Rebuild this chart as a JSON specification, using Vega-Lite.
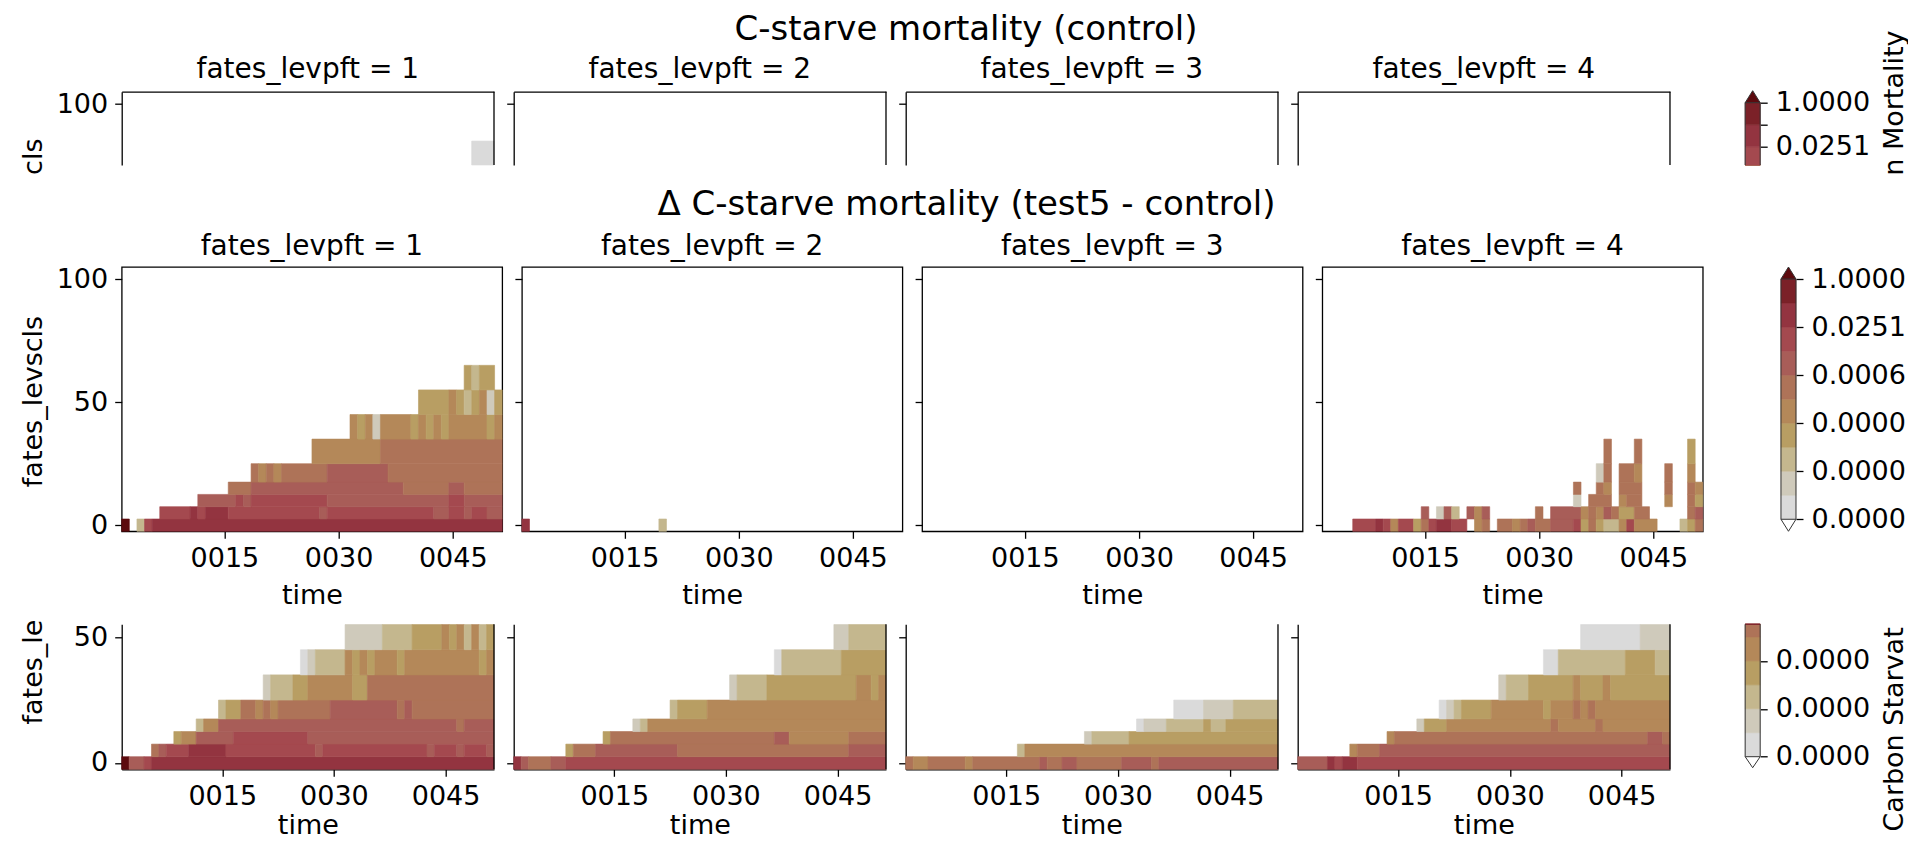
{
"$schema": "https://vega.github.io/schema/vega-lite/v6.json",
"padding": {"left": 17.7, "top": 12.7, "right": 0, "bottom": 0},
"background": "white",
"columns": 5,
"bounds": "flush",
"spacing": {"row": 92.3, "column": 19.2},
"datasets": {
"cls": [{"c":0,"lo":-2.5,"hi":2.5},{"c":5,"lo":2.5,"hi":7.5},{"c":10,"lo":7.5,"hi":12.5},{"c":15,"lo":12.5,"hi":17.5},{"c":20,"lo":17.5,"hi":25},{"c":30,"lo":25,"hi":35},{"c":40,"lo":35,"hi":45},{"c":50,"lo":45,"hi":55},{"c":60,"lo":55,"hi":65},{"c":70,"lo":65,"hi":75},{"c":80,"lo":75,"hi":85},{"c":90,"lo":85,"hi":95},{"c":100,"lo":95,"hi":105}],
"cb": [{"k0":0,"k1":1,"v":3e-8},{"k0":1,"k1":2,"v":2e-7},{"k0":2,"k1":3,"v":1e-6},{"k0":3,"k1":4,"v":6e-6},{"k0":4,"k1":5,"v":4e-5},{"k0":5,"k1":6,"v":3e-4},{"k0":6,"k1":7,"v":0.002},{"k0":7,"k1":8,"v":0.01},{"k0":8,"k1":9,"v":0.06},{"k0":9,"k1":10,"v":0.4}],
"ctl": [{"f":1,"c":80,"t0":48.5,"t1":51.5,"v":3e-8}],
"mid": [
{"f":1,"c":0,"t0":1.5,"t1":2.5,"v":1.5},{"f":1,"c":0,"t0":3.5,"t1":4.5,"v":1e-6},{"f":1,"c":0,"t0":4.5,"t1":5.5,"v":0.01},{"f":1,"c":0,"t0":5.5,"t1":51.5,"v":0.06},
{"f":1,"c":5,"t0":6.5,"t1":10.5,"v":0.01},{"f":1,"c":5,"t0":10.5,"t1":11.5,"v":0.06},{"f":1,"c":5,"t0":11.5,"t1":12.5,"v":0.01},{"f":1,"c":5,"t0":12.5,"t1":15.5,"v":0.06},{"f":1,"c":5,"t0":15.5,"t1":27.5,"v":0.01},{"f":1,"c":5,"t0":27.5,"t1":28.5,"v":0.002},{"f":1,"c":5,"t0":28.5,"t1":42.5,"v":0.01},{"f":1,"c":5,"t0":42.5,"t1":44.5,"v":0.002},{"f":1,"c":5,"t0":44.5,"t1":46.5,"v":0.01},{"f":1,"c":5,"t0":46.5,"t1":47.5,"v":0.002},{"f":1,"c":5,"t0":47.5,"t1":49.5,"v":0.01},{"f":1,"c":5,"t0":49.5,"t1":51.5,"v":0.002},
{"f":1,"c":10,"t0":11.5,"t1":16.5,"v":0.002},{"f":1,"c":10,"t0":16.5,"t1":17.5,"v":0.01},{"f":1,"c":10,"t0":17.5,"t1":18.5,"v":0.002},{"f":1,"c":10,"t0":18.5,"t1":28.5,"v":0.01},{"f":1,"c":10,"t0":28.5,"t1":44.5,"v":0.002},{"f":1,"c":10,"t0":44.5,"t1":46.5,"v":0.01},{"f":1,"c":10,"t0":46.5,"t1":51.5,"v":0.002},
{"f":1,"c":15,"t0":15.5,"t1":18.5,"v":3e-4},{"f":1,"c":15,"t0":18.5,"t1":38.5,"v":0.002},{"f":1,"c":15,"t0":38.5,"t1":44.5,"v":3e-4},{"f":1,"c":15,"t0":44.5,"t1":46.5,"v":0.002},{"f":1,"c":15,"t0":46.5,"t1":51.5,"v":3e-4},
{"f":1,"c":20,"t0":18.5,"t1":19.5,"v":3e-4},{"f":1,"c":20,"t0":19.5,"t1":20.5,"v":4e-5},{"f":1,"c":20,"t0":20.5,"t1":21.5,"v":3e-4},{"f":1,"c":20,"t0":21.5,"t1":22.5,"v":4e-5},{"f":1,"c":20,"t0":22.5,"t1":28.5,"v":3e-4},{"f":1,"c":20,"t0":28.5,"t1":36.5,"v":0.002},{"f":1,"c":20,"t0":36.5,"t1":51.5,"v":3e-4},
{"f":1,"c":30,"t0":26.5,"t1":35.5,"v":4e-5},{"f":1,"c":30,"t0":35.5,"t1":51.5,"v":3e-4},
{"f":1,"c":40,"t0":31.5,"t1":32.5,"v":4e-5},{"f":1,"c":40,"t0":32.5,"t1":33.5,"v":6e-6},{"f":1,"c":40,"t0":33.5,"t1":34.5,"v":4e-5},{"f":1,"c":40,"t0":34.5,"t1":35.5,"v":2e-7},{"f":1,"c":40,"t0":35.5,"t1":39.5,"v":4e-5},{"f":1,"c":40,"t0":39.5,"t1":40.5,"v":6e-6},{"f":1,"c":40,"t0":40.5,"t1":41.5,"v":4e-5},{"f":1,"c":40,"t0":41.5,"t1":42.5,"v":6e-6},{"f":1,"c":40,"t0":42.5,"t1":43.5,"v":4e-5},{"f":1,"c":40,"t0":43.5,"t1":44.5,"v":6e-6},{"f":1,"c":40,"t0":44.5,"t1":49.5,"v":4e-5},{"f":1,"c":40,"t0":49.5,"t1":50.5,"v":6e-6},{"f":1,"c":40,"t0":50.5,"t1":51.5,"v":4e-5},
{"f":1,"c":50,"t0":40.5,"t1":44.5,"v":6e-6},{"f":1,"c":50,"t0":44.5,"t1":45.5,"v":4e-5},{"f":1,"c":50,"t0":45.5,"t1":46.5,"v":6e-6},{"f":1,"c":50,"t0":46.5,"t1":47.5,"v":1e-6},{"f":1,"c":50,"t0":47.5,"t1":48.5,"v":6e-6},{"f":1,"c":50,"t0":48.5,"t1":49.5,"v":4e-5},{"f":1,"c":50,"t0":49.5,"t1":50.5,"v":2e-7},{"f":1,"c":50,"t0":50.5,"t1":51.5,"v":6e-6},
{"f":1,"c":60,"t0":46.5,"t1":47.5,"v":6e-6},{"f":1,"c":60,"t0":47.5,"t1":48.5,"v":1e-6},{"f":1,"c":60,"t0":48.5,"t1":50.5,"v":6e-6},
{"f":2,"c":0,"t0":1.5,"t1":2.5,"v":0.06},{"f":2,"c":0,"t0":19.5,"t1":20.5,"v":1e-6},
{"f":4,"c":0,"t0":5.5,"t1":8.5,"v":0.01},{"f":4,"c":0,"t0":8.5,"t1":9.5,"v":0.06},{"f":4,"c":0,"t0":9.5,"t1":10.5,"v":0.01},{"f":4,"c":0,"t0":10.5,"t1":11.5,"v":4e-5},{"f":4,"c":0,"t0":11.5,"t1":13.5,"v":0.01},{"f":4,"c":0,"t0":13.5,"t1":14.5,"v":6e-6},{"f":4,"c":0,"t0":14.5,"t1":15.5,"v":3e-4},{"f":4,"c":0,"t0":15.5,"t1":16.5,"v":0.01},{"f":4,"c":0,"t0":16.5,"t1":18.5,"v":0.06},{"f":4,"c":0,"t0":18.5,"t1":20.5,"v":0.01},{"f":4,"c":0,"t0":21.5,"t1":22.5,"v":4e-5},{"f":4,"c":0,"t0":22.5,"t1":23.5,"v":3e-4},{"f":4,"c":0,"t0":24.5,"t1":26.5,"v":3e-4},{"f":4,"c":0,"t0":26.5,"t1":27.5,"v":4e-5},{"f":4,"c":0,"t0":27.5,"t1":28.5,"v":3e-4},{"f":4,"c":0,"t0":28.5,"t1":29.5,"v":0.002},{"f":4,"c":0,"t0":29.5,"t1":31.5,"v":3e-4},{"f":4,"c":0,"t0":31.5,"t1":34.5,"v":0.002},{"f":4,"c":0,"t0":34.5,"t1":35.5,"v":0.01},{"f":4,"c":0,"t0":35.5,"t1":36.5,"v":6e-6},{"f":4,"c":0,"t0":36.5,"t1":37.5,"v":3e-4},{"f":4,"c":0,"t0":37.5,"t1":38.5,"v":6e-6},{"f":4,"c":0,"t0":38.5,"t1":40.5,"v":1e-6},{"f":4,"c":0,"t0":40.5,"t1":41.5,"v":4e-5},{"f":4,"c":0,"t0":41.5,"t1":42.5,"v":0.01},{"f":4,"c":0,"t0":42.5,"t1":45.5,"v":4e-5},{"f":4,"c":0,"t0":48.5,"t1":49.5,"v":1e-6},{"f":4,"c":0,"t0":49.5,"t1":50.5,"v":6e-6},{"f":4,"c":0,"t0":50.5,"t1":51.5,"v":3e-4},
{"f":4,"c":5,"t0":14.5,"t1":15.5,"v":0.002},{"f":4,"c":5,"t0":16.5,"t1":17.5,"v":2e-7},{"f":4,"c":5,"t0":17.5,"t1":18.5,"v":0.002},{"f":4,"c":5,"t0":18.5,"t1":19.5,"v":1e-6},{"f":4,"c":5,"t0":20.5,"t1":21.5,"v":0.002},{"f":4,"c":5,"t0":21.5,"t1":22.5,"v":4e-5},{"f":4,"c":5,"t0":22.5,"t1":23.5,"v":0.002},{"f":4,"c":5,"t0":29.5,"t1":30.5,"v":3e-4},{"f":4,"c":5,"t0":31.5,"t1":35.5,"v":0.002},{"f":4,"c":5,"t0":35.5,"t1":36.5,"v":4e-5},{"f":4,"c":5,"t0":36.5,"t1":37.5,"v":3e-4},{"f":4,"c":5,"t0":37.5,"t1":38.5,"v":4e-5},{"f":4,"c":5,"t0":38.5,"t1":39.5,"v":0.002},{"f":4,"c":5,"t0":39.5,"t1":40.5,"v":3e-4},{"f":4,"c":5,"t0":40.5,"t1":42.5,"v":6e-6},{"f":4,"c":5,"t0":42.5,"t1":44.5,"v":3e-4},{"f":4,"c":5,"t0":49.5,"t1":50.5,"v":3e-4},{"f":4,"c":5,"t0":50.5,"t1":51.5,"v":0.002},
{"f":4,"c":10,"t0":34.5,"t1":35.5,"v":2e-7},{"f":4,"c":10,"t0":36.5,"t1":39.5,"v":3e-4},{"f":4,"c":10,"t0":40.5,"t1":41.5,"v":4e-5},{"f":4,"c":10,"t0":41.5,"t1":43.5,"v":3e-4},{"f":4,"c":10,"t0":46.5,"t1":47.5,"v":4e-5},{"f":4,"c":10,"t0":49.5,"t1":50.5,"v":3e-4},{"f":4,"c":10,"t0":50.5,"t1":51.5,"v":6e-6},
{"f":4,"c":15,"t0":34.5,"t1":35.5,"v":3e-4},{"f":4,"c":15,"t0":37.5,"t1":38.5,"v":3e-4},{"f":4,"c":15,"t0":38.5,"t1":39.5,"v":4e-5},{"f":4,"c":15,"t0":40.5,"t1":43.5,"v":3e-4},{"f":4,"c":15,"t0":46.5,"t1":47.5,"v":3e-4},{"f":4,"c":15,"t0":49.5,"t1":50.5,"v":3e-4},{"f":4,"c":15,"t0":50.5,"t1":51.5,"v":4e-5},
{"f":4,"c":20,"t0":37.5,"t1":38.5,"v":2e-7},{"f":4,"c":20,"t0":38.5,"t1":39.5,"v":3e-4},{"f":4,"c":20,"t0":40.5,"t1":42.5,"v":3e-4},{"f":4,"c":20,"t0":42.5,"t1":43.5,"v":4e-5},{"f":4,"c":20,"t0":46.5,"t1":47.5,"v":3e-4},{"f":4,"c":20,"t0":49.5,"t1":50.5,"v":4e-5},
{"f":4,"c":30,"t0":38.5,"t1":39.5,"v":3e-4},{"f":4,"c":30,"t0":42.5,"t1":43.5,"v":3e-4},{"f":4,"c":30,"t0":49.5,"t1":50.5,"v":6e-6}
],
"bot": [
{"f":1,"c":0,"t0":1.5,"t1":2.5,"v":1.5},{"f":1,"c":0,"t0":2.5,"t1":4.5,"v":0.002},{"f":1,"c":0,"t0":4.5,"t1":5.5,"v":0.01},{"f":1,"c":0,"t0":5.5,"t1":51.5,"v":0.06},
{"f":1,"c":5,"t0":5.5,"t1":6.5,"v":3e-4},{"f":1,"c":5,"t0":6.5,"t1":7.5,"v":0.002},{"f":1,"c":5,"t0":7.5,"t1":10.5,"v":0.01},{"f":1,"c":5,"t0":10.5,"t1":15.5,"v":0.06},{"f":1,"c":5,"t0":15.5,"t1":27.5,"v":0.01},{"f":1,"c":5,"t0":27.5,"t1":28.5,"v":0.002},{"f":1,"c":5,"t0":28.5,"t1":42.5,"v":0.01},{"f":1,"c":5,"t0":42.5,"t1":43.5,"v":0.002},{"f":1,"c":5,"t0":43.5,"t1":46.5,"v":0.01},{"f":1,"c":5,"t0":46.5,"t1":47.5,"v":0.002},{"f":1,"c":5,"t0":47.5,"t1":50.5,"v":0.01},{"f":1,"c":5,"t0":50.5,"t1":51.5,"v":0.002},
{"f":1,"c":10,"t0":8.5,"t1":9.5,"v":6e-6},{"f":1,"c":10,"t0":9.5,"t1":11.5,"v":4e-5},{"f":1,"c":10,"t0":11.5,"t1":16.5,"v":0.002},{"f":1,"c":10,"t0":16.5,"t1":26.5,"v":0.01},{"f":1,"c":10,"t0":26.5,"t1":51.5,"v":0.002},
{"f":1,"c":15,"t0":11.5,"t1":12.5,"v":1e-6},{"f":1,"c":15,"t0":12.5,"t1":14.5,"v":4e-5},{"f":1,"c":15,"t0":14.5,"t1":46.5,"v":0.002},{"f":1,"c":15,"t0":46.5,"t1":47.5,"v":3e-4},{"f":1,"c":15,"t0":47.5,"t1":51.5,"v":0.002},
{"f":1,"c":20,"t0":14.5,"t1":15.5,"v":1e-6},{"f":1,"c":20,"t0":15.5,"t1":17.5,"v":6e-6},{"f":1,"c":20,"t0":17.5,"t1":19.5,"v":3e-4},{"f":1,"c":20,"t0":19.5,"t1":20.5,"v":4e-5},{"f":1,"c":20,"t0":20.5,"t1":21.5,"v":3e-4},{"f":1,"c":20,"t0":21.5,"t1":22.5,"v":4e-5},{"f":1,"c":20,"t0":22.5,"t1":29.5,"v":3e-4},{"f":1,"c":20,"t0":29.5,"t1":38.5,"v":0.002},{"f":1,"c":20,"t0":38.5,"t1":39.5,"v":3e-4},{"f":1,"c":20,"t0":39.5,"t1":40.5,"v":0.002},{"f":1,"c":20,"t0":40.5,"t1":51.5,"v":3e-4},
{"f":1,"c":30,"t0":20.5,"t1":21.5,"v":2e-7},{"f":1,"c":30,"t0":21.5,"t1":24.5,"v":1e-6},{"f":1,"c":30,"t0":24.5,"t1":26.5,"v":6e-6},{"f":1,"c":30,"t0":26.5,"t1":32.5,"v":4e-5},{"f":1,"c":30,"t0":32.5,"t1":34.5,"v":6e-6},{"f":1,"c":30,"t0":34.5,"t1":51.5,"v":3e-4},
{"f":1,"c":40,"t0":25.5,"t1":26.5,"v":3e-8},{"f":1,"c":40,"t0":26.5,"t1":27.5,"v":2e-7},{"f":1,"c":40,"t0":27.5,"t1":31.5,"v":1e-6},{"f":1,"c":40,"t0":31.5,"t1":32.5,"v":4e-5},{"f":1,"c":40,"t0":32.5,"t1":33.5,"v":6e-6},{"f":1,"c":40,"t0":33.5,"t1":34.5,"v":4e-5},{"f":1,"c":40,"t0":34.5,"t1":35.5,"v":6e-6},{"f":1,"c":40,"t0":35.5,"t1":38.5,"v":4e-5},{"f":1,"c":40,"t0":38.5,"t1":39.5,"v":6e-6},{"f":1,"c":40,"t0":39.5,"t1":49.5,"v":4e-5},{"f":1,"c":40,"t0":49.5,"t1":50.5,"v":6e-6},{"f":1,"c":40,"t0":50.5,"t1":51.5,"v":4e-5},
{"f":1,"c":50,"t0":31.5,"t1":36.5,"v":2e-7},{"f":1,"c":50,"t0":36.5,"t1":40.5,"v":1e-6},{"f":1,"c":50,"t0":40.5,"t1":44.5,"v":6e-6},{"f":1,"c":50,"t0":44.5,"t1":45.5,"v":4e-5},{"f":1,"c":50,"t0":45.5,"t1":46.5,"v":6e-6},{"f":1,"c":50,"t0":46.5,"t1":47.5,"v":4e-5},{"f":1,"c":50,"t0":47.5,"t1":48.5,"v":1e-6},{"f":1,"c":50,"t0":48.5,"t1":49.5,"v":4e-5},{"f":1,"c":50,"t0":49.5,"t1":50.5,"v":1e-6},{"f":1,"c":50,"t0":50.5,"t1":51.5,"v":6e-6},
{"f":2,"c":0,"t0":1.5,"t1":2.5,"v":0.06},{"f":2,"c":0,"t0":2.5,"t1":3.5,"v":0.002},{"f":2,"c":0,"t0":3.5,"t1":6.5,"v":3e-4},{"f":2,"c":0,"t0":6.5,"t1":8.5,"v":0.002},{"f":2,"c":0,"t0":8.5,"t1":51.5,"v":0.01},
{"f":2,"c":5,"t0":8.5,"t1":9.5,"v":6e-6},{"f":2,"c":5,"t0":9.5,"t1":12.5,"v":3e-4},{"f":2,"c":5,"t0":12.5,"t1":23.5,"v":0.002},{"f":2,"c":5,"t0":23.5,"t1":46.5,"v":3e-4},{"f":2,"c":5,"t0":46.5,"t1":51.5,"v":0.002},
{"f":2,"c":10,"t0":13.5,"t1":14.5,"v":6e-6},{"f":2,"c":10,"t0":14.5,"t1":36.5,"v":3e-4},{"f":2,"c":10,"t0":36.5,"t1":38.5,"v":0.002},{"f":2,"c":10,"t0":38.5,"t1":46.5,"v":4e-5},{"f":2,"c":10,"t0":46.5,"t1":51.5,"v":3e-4},
{"f":2,"c":15,"t0":17.5,"t1":18.5,"v":2e-7},{"f":2,"c":15,"t0":18.5,"t1":19.5,"v":1e-6},{"f":2,"c":15,"t0":19.5,"t1":51.5,"v":4e-5},
{"f":2,"c":20,"t0":22.5,"t1":23.5,"v":1e-6},{"f":2,"c":20,"t0":23.5,"t1":27.5,"v":6e-6},{"f":2,"c":20,"t0":27.5,"t1":51.5,"v":4e-5},
{"f":2,"c":30,"t0":30.5,"t1":31.5,"v":2e-7},{"f":2,"c":30,"t0":31.5,"t1":35.5,"v":1e-6},{"f":2,"c":30,"t0":35.5,"t1":47.5,"v":6e-6},{"f":2,"c":30,"t0":47.5,"t1":49.5,"v":4e-5},{"f":2,"c":30,"t0":49.5,"t1":50.5,"v":6e-6},{"f":2,"c":30,"t0":50.5,"t1":51.5,"v":4e-5},
{"f":2,"c":40,"t0":36.5,"t1":37.5,"v":3e-8},{"f":2,"c":40,"t0":37.5,"t1":45.5,"v":1e-6},{"f":2,"c":40,"t0":45.5,"t1":51.5,"v":6e-6},
{"f":2,"c":50,"t0":44.5,"t1":46.5,"v":2e-7},{"f":2,"c":50,"t0":46.5,"t1":51.5,"v":1e-6},
{"f":3,"c":0,"t0":1.5,"t1":2.5,"v":3e-4},{"f":3,"c":0,"t0":2.5,"t1":4.5,"v":4e-5},{"f":3,"c":0,"t0":4.5,"t1":9.5,"v":3e-4},{"f":3,"c":0,"t0":9.5,"t1":10.5,"v":4e-5},{"f":3,"c":0,"t0":10.5,"t1":19.5,"v":3e-4},{"f":3,"c":0,"t0":19.5,"t1":20.5,"v":0.002},{"f":3,"c":0,"t0":20.5,"t1":22.5,"v":3e-4},{"f":3,"c":0,"t0":22.5,"t1":24.5,"v":0.002},{"f":3,"c":0,"t0":24.5,"t1":30.5,"v":3e-4},{"f":3,"c":0,"t0":30.5,"t1":34.5,"v":0.002},{"f":3,"c":0,"t0":34.5,"t1":35.5,"v":3e-4},{"f":3,"c":0,"t0":35.5,"t1":51.5,"v":0.002},
{"f":3,"c":5,"t0":16.5,"t1":17.5,"v":1e-6},{"f":3,"c":5,"t0":17.5,"t1":51.5,"v":4e-5},
{"f":3,"c":10,"t0":25.5,"t1":26.5,"v":2e-7},{"f":3,"c":10,"t0":26.5,"t1":31.5,"v":1e-6},{"f":3,"c":10,"t0":31.5,"t1":51.5,"v":6e-6},
{"f":3,"c":15,"t0":32.5,"t1":33.5,"v":3e-8},{"f":3,"c":15,"t0":33.5,"t1":36.5,"v":2e-7},{"f":3,"c":15,"t0":36.5,"t1":41.5,"v":1e-6},{"f":3,"c":15,"t0":41.5,"t1":42.5,"v":6e-6},{"f":3,"c":15,"t0":42.5,"t1":44.5,"v":1e-6},{"f":3,"c":15,"t0":44.5,"t1":51.5,"v":6e-6},
{"f":3,"c":20,"t0":37.5,"t1":41.5,"v":3e-8},{"f":3,"c":20,"t0":41.5,"t1":45.5,"v":2e-7},{"f":3,"c":20,"t0":45.5,"t1":51.5,"v":1e-6},
{"f":4,"c":0,"t0":1.5,"t1":5.5,"v":0.002},{"f":4,"c":0,"t0":5.5,"t1":6.5,"v":0.06},{"f":4,"c":0,"t0":6.5,"t1":7.5,"v":0.01},{"f":4,"c":0,"t0":7.5,"t1":9.5,"v":0.06},{"f":4,"c":0,"t0":9.5,"t1":51.5,"v":0.01},
{"f":4,"c":5,"t0":8.5,"t1":9.5,"v":4e-5},{"f":4,"c":5,"t0":9.5,"t1":12.5,"v":3e-4},{"f":4,"c":5,"t0":12.5,"t1":51.5,"v":0.002},
{"f":4,"c":10,"t0":13.5,"t1":14.5,"v":4e-5},{"f":4,"c":10,"t0":14.5,"t1":48.5,"v":3e-4},{"f":4,"c":10,"t0":48.5,"t1":50.5,"v":0.002},{"f":4,"c":10,"t0":50.5,"t1":51.5,"v":3e-4},
{"f":4,"c":15,"t0":17.5,"t1":18.5,"v":2e-7},{"f":4,"c":15,"t0":18.5,"t1":21.5,"v":6e-6},{"f":4,"c":15,"t0":21.5,"t1":35.5,"v":4e-5},{"f":4,"c":15,"t0":35.5,"t1":36.5,"v":3e-4},{"f":4,"c":15,"t0":36.5,"t1":41.5,"v":4e-5},{"f":4,"c":15,"t0":41.5,"t1":42.5,"v":3e-4},{"f":4,"c":15,"t0":42.5,"t1":51.5,"v":4e-5},
{"f":4,"c":20,"t0":20.5,"t1":21.5,"v":3e-8},{"f":4,"c":20,"t0":21.5,"t1":22.5,"v":2e-7},{"f":4,"c":20,"t0":22.5,"t1":23.5,"v":1e-6},{"f":4,"c":20,"t0":23.5,"t1":27.5,"v":6e-6},{"f":4,"c":20,"t0":27.5,"t1":34.5,"v":4e-5},{"f":4,"c":20,"t0":34.5,"t1":35.5,"v":6e-6},{"f":4,"c":20,"t0":35.5,"t1":38.5,"v":4e-5},{"f":4,"c":20,"t0":38.5,"t1":39.5,"v":3e-4},{"f":4,"c":20,"t0":39.5,"t1":40.5,"v":4e-5},{"f":4,"c":20,"t0":40.5,"t1":41.5,"v":3e-4},{"f":4,"c":20,"t0":41.5,"t1":51.5,"v":4e-5},
{"f":4,"c":30,"t0":28.5,"t1":29.5,"v":2e-7},{"f":4,"c":30,"t0":29.5,"t1":32.5,"v":1e-6},{"f":4,"c":30,"t0":32.5,"t1":38.5,"v":6e-6},{"f":4,"c":30,"t0":38.5,"t1":39.5,"v":4e-5},{"f":4,"c":30,"t0":39.5,"t1":42.5,"v":6e-6},{"f":4,"c":30,"t0":42.5,"t1":43.5,"v":4e-5},{"f":4,"c":30,"t0":43.5,"t1":51.5,"v":6e-6},
{"f":4,"c":40,"t0":34.5,"t1":36.5,"v":3e-8},{"f":4,"c":40,"t0":36.5,"t1":45.5,"v":1e-6},{"f":4,"c":40,"t0":45.5,"t1":49.5,"v":6e-6},{"f":4,"c":40,"t0":49.5,"t1":51.5,"v":1e-6},
{"f":4,"c":50,"t0":39.5,"t1":47.5,"v":3e-8},{"f":4,"c":50,"t0":47.5,"t1":51.5,"v":2e-7}
]
},
"concat": [
{"width": 372.3, "height": 82.7, "view": {"stroke": null},
 "title": {"text": "fates_levpft = 1", "fontSize": 28, "baseline": "alphabetic", "frame": "group", "offset": -16.3},
 "layer": [
  {"data": {"name": "ctl"}, "transform": [{"filter": "datum.f == 1"}, {"lookup": "c", "from": {"data": {"name": "cls"}, "key": "c", "fields": ["lo", "hi"]}}],
   "mark": {"type": "rect", "strokeWidth": 0.6},
   "encoding": {
    "x": {"field": "t0", "type": "quantitative", "scale": {"domain": [1.5, 51.5], "range": [0, 372.3], "nice": false, "zero": false}, "axis": {"orient": "top", "ticks": false, "labels": false, "title": null, "domain": true}},
    "x2": {"field": "t1"},
    "y": {"field": "lo", "type": "quantitative", "scale": {"domain": [75.3, 105], "range": [73.3, 0], "clamp": true, "nice": false, "zero": false}, "axis": {"values": [100], "domain": true, "labels": true, "title": "cls", "titleAngle": 270, "titleAlign": "right", "titleBaseline": "alphabetic", "titleX": -80.7, "titleY": 46.3}},
    "y2": {"field": "hi"},
    "color": {"field": "v", "type": "quantitative", "scale": {"type": "threshold", "domain": [1e-8,6.31e-8,3.98e-7,2.51e-6,1.58e-5,1e-4,6.31e-4,3.98e-3,0.0251,0.158,1], "range": ["#ffffff","#dadada","#cfcabb","#c4b78e","#b89e63","#b48859","#ae7358","#a85d58","#a4494f","#933440","#7b2128","#5c0a0e"]}, "legend": null},
    "stroke": {"field": "v", "type": "quantitative", "scale": {"type": "threshold", "domain": [1e-8,6.31e-8,3.98e-7,2.51e-6,1.58e-5,1e-4,6.31e-4,3.98e-3,0.0251,0.158,1], "range": ["#ffffff","#dadada","#cfcabb","#c4b78e","#b89e63","#b48859","#ae7358","#a85d58","#a4494f","#933440","#7b2128","#5c0a0e"]}, "legend": null}}},
  {"data": {"values": [{}]}, "mark": {"type": "rule", "color": "#000", "strokeWidth": 1.3}, "encoding": {"x": {"datum": 51.5}, "y": {"datum": 75.3}, "y2": {"datum": 105}}}
 ]},
{"width": 372.3, "height": 82.7, "view": {"stroke": null},
 "title": {"text": "fates_levpft = 2", "fontSize": 28, "baseline": "alphabetic", "frame": "group", "offset": -15.25, "dx": -8.2},
 "layer": [
  {"data": {"name": "ctl"}, "transform": [{"filter": "datum.f == 2"}, {"lookup": "c", "from": {"data": {"name": "cls"}, "key": "c", "fields": ["lo", "hi"]}}],
   "mark": {"type": "rect", "strokeWidth": 0.6},
   "encoding": {
    "x": {"field": "t0", "type": "quantitative", "scale": {"domain": [1.5, 51.5], "range": [-8.2, 364.1], "nice": false, "zero": false}, "axis": {"orient": "top", "ticks": false, "labels": false, "title": null, "domain": true}},
    "x2": {"field": "t1"},
    "y": {"field": "lo", "type": "quantitative", "scale": {"domain": [75.3, 105], "range": [73.3, 0], "clamp": true, "nice": false, "zero": false}, "axis": {"values": [100], "domain": true, "labels": false, "title": null, "offset": 8.2}},
    "y2": {"field": "hi"},
    "color": {"field": "v", "type": "quantitative", "scale": {"type": "threshold", "domain": [1e-8,6.31e-8,3.98e-7,2.51e-6,1.58e-5,1e-4,6.31e-4,3.98e-3,0.0251,0.158,1], "range": ["#ffffff","#dadada","#cfcabb","#c4b78e","#b89e63","#b48859","#ae7358","#a85d58","#a4494f","#933440","#7b2128","#5c0a0e"]}, "legend": null}}},
  {"data": {"values": [{}]}, "mark": {"type": "rule", "color": "#000", "strokeWidth": 1.3}, "encoding": {"x": {"datum": 51.5}, "y": {"datum": 75.3}, "y2": {"datum": 105}}}
 ]},
{"width": 372.3, "height": 82.7, "view": {"stroke": null},
 "title": {"text": "fates_levpft = 3", "fontSize": 28, "baseline": "alphabetic", "frame": "group", "offset": -15.25, "dx": -16.4},
 "layer": [
  {"data": {"name": "ctl"}, "transform": [{"filter": "datum.f == 3"}, {"lookup": "c", "from": {"data": {"name": "cls"}, "key": "c", "fields": ["lo", "hi"]}}],
   "mark": {"type": "rect", "strokeWidth": 0.6},
   "encoding": {
    "x": {"field": "t0", "type": "quantitative", "scale": {"domain": [1.5, 51.5], "range": [-16.4, 355.9], "nice": false, "zero": false}, "axis": {"orient": "top", "ticks": false, "labels": false, "title": null, "domain": true}},
    "x2": {"field": "t1"},
    "y": {"field": "lo", "type": "quantitative", "scale": {"domain": [75.3, 105], "range": [73.3, 0], "clamp": true, "nice": false, "zero": false}, "axis": {"values": [100], "domain": true, "labels": false, "title": null, "offset": 16.4}},
    "y2": {"field": "hi"},
    "color": {"field": "v", "type": "quantitative", "scale": {"type": "threshold", "domain": [1e-8,6.31e-8,3.98e-7,2.51e-6,1.58e-5,1e-4,6.31e-4,3.98e-3,0.0251,0.158,1], "range": ["#ffffff","#dadada","#cfcabb","#c4b78e","#b89e63","#b48859","#ae7358","#a85d58","#a4494f","#933440","#7b2128","#5c0a0e"]}, "legend": null}}},
  {"data": {"values": [{}]}, "mark": {"type": "rule", "color": "#000", "strokeWidth": 1.3}, "encoding": {"x": {"datum": 51.5}, "y": {"datum": 75.3}, "y2": {"datum": 105}}}
 ]},
{"width": 372.3, "height": 82.7, "view": {"stroke": null},
 "title": {"text": "fates_levpft = 4", "fontSize": 28, "baseline": "alphabetic", "frame": "group", "offset": -15.25, "dx": -24.6},
 "layer": [
  {"data": {"name": "ctl"}, "transform": [{"filter": "datum.f == 4"}, {"lookup": "c", "from": {"data": {"name": "cls"}, "key": "c", "fields": ["lo", "hi"]}}],
   "mark": {"type": "rect", "strokeWidth": 0.6},
   "encoding": {
    "x": {"field": "t0", "type": "quantitative", "scale": {"domain": [1.5, 51.5], "range": [-24.6, 347.7], "nice": false, "zero": false}, "axis": {"orient": "top", "ticks": false, "labels": false, "title": null, "domain": true}},
    "x2": {"field": "t1"},
    "y": {"field": "lo", "type": "quantitative", "scale": {"domain": [75.3, 105], "range": [73.3, 0], "clamp": true, "nice": false, "zero": false}, "axis": {"values": [100], "domain": true, "labels": false, "title": null, "offset": 24.6}},
    "y2": {"field": "hi"},
    "color": {"field": "v", "type": "quantitative", "scale": {"type": "threshold", "domain": [1e-8,6.31e-8,3.98e-7,2.51e-6,1.58e-5,1e-4,6.31e-4,3.98e-3,0.0251,0.158,1], "range": ["#ffffff","#dadada","#cfcabb","#c4b78e","#b89e63","#b48859","#ae7358","#a85d58","#a4494f","#933440","#7b2128","#5c0a0e"]}, "legend": null}}},
  {"data": {"values": [{}]}, "mark": {"type": "rule", "color": "#000", "strokeWidth": 1.3}, "encoding": {"x": {"datum": 51.5}, "y": {"datum": 75.3}, "y2": {"datum": 105}}}
 ]},
{"width": 37.7, "height": 82.7, "view": {"stroke": null},
 "title": {"text": "C-starve mortality (control)", "fontSize": 34, "baseline": "alphabetic", "frame": "group", "anchor": "middle", "dx": -775.35, "offset": -44, "limit": 3000},
 "layer": [
  {"data": {"name": "cb"}, "mark": {"type": "rect", "strokeWidth": 0.6},
   "encoding": {
    "x": {"datum": 0, "type": "quantitative", "scale": {"domain": [0, 1], "range": [22.7, 37.7]}, "axis": null},
    "x2": {"datum": 1},
    "y": {"field": "k0", "type": "quantitative", "scale": {"domain": [7.168, 10.5], "range": [73.3, 0], "clamp": true, "nice": false, "zero": false},
      "axis": {"orient": "right", "values": [8, 9, 10], "domain": false, "labelPadding": 8, "labelExpr": "datum.value % 2 == 0 ? format(pow(10, -0.8*(10-datum.value)), '.4f') : ''", "title": "n Mortality", "titleAngle": 270, "titleAlign": "right", "titleBaseline": "alphabetic", "titleX": 142.5, "titleY": -61.7}},
    "y2": {"field": "k1"},
    "color": {"field": "v", "type": "quantitative", "scale": {"type": "threshold", "domain": [1e-8,6.31e-8,3.98e-7,2.51e-6,1.58e-5,1e-4,6.31e-4,3.98e-3,0.0251,0.158,1], "range": ["#ffffff","#dadada","#cfcabb","#c4b78e","#b89e63","#b48859","#ae7358","#a85d58","#a4494f","#933440","#7b2128","#5c0a0e"]}, "legend": null},
    "stroke": {"field": "v", "type": "quantitative", "scale": {"type": "threshold", "domain": [1e-8,6.31e-8,3.98e-7,2.51e-6,1.58e-5,1e-4,6.31e-4,3.98e-3,0.0251,0.158,1], "range": ["#ffffff","#dadada","#cfcabb","#c4b78e","#b89e63","#b48859","#ae7358","#a85d58","#a4494f","#933440","#7b2128","#5c0a0e"]}, "legend": null}}},
  {"data": {"values": [{}]}, "mark": {"type": "rule", "color": "#333", "strokeWidth": 1}, "encoding": {"x": {"datum": 0}, "y": {"datum": 7}, "y2": {"datum": 10}}},
  {"data": {"values": [{}]}, "mark": {"type": "rule", "color": "#333", "strokeWidth": 1}, "encoding": {"x": {"datum": 1}, "y": {"datum": 7}, "y2": {"datum": 10}}},
  {"data": {"values": [{}]}, "mark": {"type": "point", "shape": "M-1,0L1,0L0,-1.6Z", "size": 225, "filled": true, "color": "#5c0a0e", "stroke": "#333", "strokeWidth": 1, "opacity": 1}, "encoding": {"x": {"datum": 0.5}, "y": {"datum": 10}}}
 ]},
{"width": 380.5, "height": 264.3,
 "title": {"text": "fates_levpft = 1", "fontSize": 28, "baseline": "alphabetic", "frame": "group", "offset": -18},
 "data": {"name": "mid"}, "transform": [{"filter": "datum.f == 1"}, {"lookup": "c", "from": {"data": {"name": "cls"}, "key": "c", "fields": ["lo", "hi"]}}],
 "mark": {"type": "rect", "strokeWidth": 0.6},
 "encoding": {
  "x": {"field": "t0", "type": "quantitative", "scale": {"domain": [1.5, 51.5], "nice": false, "zero": false}, "axis": {"values": [15, 30, 45], "labelExpr": "'00' + datum.value", "domain": false, "title": "time", "titleY": 72, "titleBaseline": "alphabetic"}},
  "x2": {"field": "t1"},
  "y": {"field": "lo", "type": "quantitative", "scale": {"domain": [-2.5, 105], "nice": false, "zero": false}, "axis": {"values": [0, 50, 100], "domain": false, "labels": true, "title": "fates_levscls", "titleAngle": 270, "titleAlign": "center", "titleBaseline": "alphabetic", "titleX": -80.7, "titleY": 134}},
  "y2": {"field": "hi"},
  "color": {"field": "v", "type": "quantitative", "scale": {"type": "threshold", "domain": [1e-8,6.31e-8,3.98e-7,2.51e-6,1.58e-5,1e-4,6.31e-4,3.98e-3,0.0251,0.158,1], "range": ["#ffffff","#dadada","#cfcabb","#c4b78e","#b89e63","#b48859","#ae7358","#a85d58","#a4494f","#933440","#7b2128","#5c0a0e"]}, "legend": null},
  "stroke": {"field": "v", "type": "quantitative", "scale": {"type": "threshold", "domain": [1e-8,6.31e-8,3.98e-7,2.51e-6,1.58e-5,1e-4,6.31e-4,3.98e-3,0.0251,0.158,1], "range": ["#ffffff","#dadada","#cfcabb","#c4b78e","#b89e63","#b48859","#ae7358","#a85d58","#a4494f","#933440","#7b2128","#5c0a0e"]}, "legend": null}}},
{"width": 380.5, "height": 264.3,
 "title": {"text": "fates_levpft = 2", "fontSize": 28, "baseline": "alphabetic", "frame": "group", "offset": -16.3},
 "data": {"name": "mid"}, "transform": [{"filter": "datum.f == 2"}, {"lookup": "c", "from": {"data": {"name": "cls"}, "key": "c", "fields": ["lo", "hi"]}}],
 "mark": {"type": "rect", "strokeWidth": 0.6},
 "encoding": {
  "x": {"field": "t0", "type": "quantitative", "scale": {"domain": [1.5, 51.5], "nice": false, "zero": false}, "axis": {"values": [15, 30, 45], "labelExpr": "'00' + datum.value", "domain": false, "title": "time", "titleY": 72, "titleBaseline": "alphabetic"}},
  "x2": {"field": "t1"},
  "y": {"field": "lo", "type": "quantitative", "scale": {"domain": [-2.5, 105], "nice": false, "zero": false}, "axis": {"values": [0, 50, 100], "domain": false, "labels": false, "title": null}},
  "y2": {"field": "hi"},
  "color": {"field": "v", "type": "quantitative", "scale": {"type": "threshold", "domain": [1e-8,6.31e-8,3.98e-7,2.51e-6,1.58e-5,1e-4,6.31e-4,3.98e-3,0.0251,0.158,1], "range": ["#ffffff","#dadada","#cfcabb","#c4b78e","#b89e63","#b48859","#ae7358","#a85d58","#a4494f","#933440","#7b2128","#5c0a0e"]}, "legend": null},
  "stroke": {"field": "v", "type": "quantitative", "scale": {"type": "threshold", "domain": [1e-8,6.31e-8,3.98e-7,2.51e-6,1.58e-5,1e-4,6.31e-4,3.98e-3,0.0251,0.158,1], "range": ["#ffffff","#dadada","#cfcabb","#c4b78e","#b89e63","#b48859","#ae7358","#a85d58","#a4494f","#933440","#7b2128","#5c0a0e"]}, "legend": null}}},
{"width": 380.5, "height": 264.3,
 "title": {"text": "fates_levpft = 3", "fontSize": 28, "baseline": "alphabetic", "frame": "group", "offset": -16.3},
 "data": {"name": "mid"}, "transform": [{"filter": "datum.f == 3"}, {"lookup": "c", "from": {"data": {"name": "cls"}, "key": "c", "fields": ["lo", "hi"]}}],
 "mark": {"type": "rect", "strokeWidth": 0.6},
 "encoding": {
  "x": {"field": "t0", "type": "quantitative", "scale": {"domain": [1.5, 51.5], "nice": false, "zero": false}, "axis": {"values": [15, 30, 45], "labelExpr": "'00' + datum.value", "domain": false, "title": "time", "titleY": 72, "titleBaseline": "alphabetic"}},
  "x2": {"field": "t1"},
  "y": {"field": "lo", "type": "quantitative", "scale": {"domain": [-2.5, 105], "nice": false, "zero": false}, "axis": {"values": [0, 50, 100], "domain": false, "labels": false, "title": null}},
  "y2": {"field": "hi"},
  "color": {"field": "v", "type": "quantitative", "scale": {"type": "threshold", "domain": [1e-8,6.31e-8,3.98e-7,2.51e-6,1.58e-5,1e-4,6.31e-4,3.98e-3,0.0251,0.158,1], "range": ["#ffffff","#dadada","#cfcabb","#c4b78e","#b89e63","#b48859","#ae7358","#a85d58","#a4494f","#933440","#7b2128","#5c0a0e"]}, "legend": null}}},
{"width": 380.5, "height": 264.3,
 "title": {"text": "fates_levpft = 4", "fontSize": 28, "baseline": "alphabetic", "frame": "group", "offset": -16.3},
 "data": {"name": "mid"}, "transform": [{"filter": "datum.f == 4"}, {"lookup": "c", "from": {"data": {"name": "cls"}, "key": "c", "fields": ["lo", "hi"]}}],
 "mark": {"type": "rect", "strokeWidth": 0.6},
 "encoding": {
  "x": {"field": "t0", "type": "quantitative", "scale": {"domain": [1.5, 51.5], "nice": false, "zero": false}, "axis": {"values": [15, 30, 45], "labelExpr": "'00' + datum.value", "domain": false, "title": "time", "titleY": 72, "titleBaseline": "alphabetic"}},
  "x2": {"field": "t1"},
  "y": {"field": "lo", "type": "quantitative", "scale": {"domain": [-2.5, 105], "nice": false, "zero": false}, "axis": {"values": [0, 50, 100], "domain": false, "labels": false, "title": null}},
  "y2": {"field": "hi"},
  "color": {"field": "v", "type": "quantitative", "scale": {"type": "threshold", "domain": [1e-8,6.31e-8,3.98e-7,2.51e-6,1.58e-5,1e-4,6.31e-4,3.98e-3,0.0251,0.158,1], "range": ["#ffffff","#dadada","#cfcabb","#c4b78e","#b89e63","#b48859","#ae7358","#a85d58","#a4494f","#933440","#7b2128","#5c0a0e"]}, "legend": null},
  "stroke": {"field": "v", "type": "quantitative", "scale": {"type": "threshold", "domain": [1e-8,6.31e-8,3.98e-7,2.51e-6,1.58e-5,1e-4,6.31e-4,3.98e-3,0.0251,0.158,1], "range": ["#ffffff","#dadada","#cfcabb","#c4b78e","#b89e63","#b48859","#ae7358","#a85d58","#a4494f","#933440","#7b2128","#5c0a0e"]}, "legend": null}}},
{"width": 73.5, "height": 264.3, "view": {"stroke": null},
 "layer": [
  {"data": {"name": "cb"}, "mark": {"type": "rect", "strokeWidth": 0.6},
   "encoding": {
    "x": {"datum": 0, "type": "quantitative", "scale": {"domain": [0, 1], "range": [58.5, 73.5]}, "axis": {"orient": "top", "domain": false, "ticks": false, "labels": false, "title": "Δ C-starve mortality (test5 - control)", "titleFontSize": 34, "titleX": -756.5, "titleY": -52.7, "titleAlign": "center", "titleBaseline": "alphabetic", "titleAngle": 0, "titleLimit": 3000}},
    "x2": {"datum": 1},
    "y": {"field": "k0", "type": "quantitative", "scale": {"domain": [-0.5, 10.5], "nice": false, "zero": false},
      "axis": {"orient": "right", "values": [0,1,2,3,4,5,6,7,8,9,10], "domain": false, "labelPadding": 8, "labelExpr": "datum.value % 2 == 0 ? format(pow(10, -0.8*(10-datum.value)), '.4f') : ''", "title": null}},
    "y2": {"field": "k1"},
    "color": {"field": "v", "type": "quantitative", "scale": {"type": "threshold", "domain": [1e-8,6.31e-8,3.98e-7,2.51e-6,1.58e-5,1e-4,6.31e-4,3.98e-3,0.0251,0.158,1], "range": ["#ffffff","#dadada","#cfcabb","#c4b78e","#b89e63","#b48859","#ae7358","#a85d58","#a4494f","#933440","#7b2128","#5c0a0e"]}, "legend": null},
    "stroke": {"field": "v", "type": "quantitative", "scale": {"type": "threshold", "domain": [1e-8,6.31e-8,3.98e-7,2.51e-6,1.58e-5,1e-4,6.31e-4,3.98e-3,0.0251,0.158,1], "range": ["#ffffff","#dadada","#cfcabb","#c4b78e","#b89e63","#b48859","#ae7358","#a85d58","#a4494f","#933440","#7b2128","#5c0a0e"]}, "legend": null}}},
  {"data": {"values": [{}]}, "mark": {"type": "rule", "color": "#333", "strokeWidth": 1}, "encoding": {"x": {"datum": 0}, "y": {"datum": 0}, "y2": {"datum": 10}}},
  {"data": {"values": [{}]}, "mark": {"type": "rule", "color": "#333", "strokeWidth": 1}, "encoding": {"x": {"datum": 1}, "y": {"datum": 0}, "y2": {"datum": 10}}},
  {"data": {"values": [{}]}, "mark": {"type": "point", "shape": "M-1,0L1,0L0,-1.6Z", "size": 225, "filled": true, "color": "#5c0a0e", "stroke": "#333", "strokeWidth": 1, "opacity": 1}, "encoding": {"x": {"datum": 0.5}, "y": {"datum": 10}}},
  {"data": {"values": [{}]}, "mark": {"type": "point", "shape": "M-1,0L1,0L0,1.6Z", "size": 225, "filled": true, "color": "#ffffff", "stroke": "#333", "strokeWidth": 1, "opacity": 1}, "encoding": {"x": {"datum": 0.5}, "y": {"datum": 0}}}
 ]},
{"width": 372.3, "height": 145, "view": {"stroke": null},
 "layer": [
  {"data": {"name": "bot"}, "transform": [{"filter": "datum.f == 1"}, {"lookup": "c", "from": {"data": {"name": "cls"}, "key": "c", "fields": ["lo", "hi"]}}],
   "mark": {"type": "rect", "strokeWidth": 0.6},
   "encoding": {
    "x": {"field": "t0", "type": "quantitative", "scale": {"domain": [1.5, 51.5], "range": [0, 372.3], "nice": false, "zero": false}, "axis": {"values": [15, 30, 45], "labelExpr": "'00' + datum.value", "domain": true, "title": "time", "titleY": 64.7, "titleBaseline": "alphabetic"}},
    "x2": {"field": "t1"},
    "y": {"field": "lo", "type": "quantitative", "scale": {"domain": [-2.5, 55.1], "nice": false, "zero": false}, "axis": {"values": [0, 50], "domain": true, "labels": true, "title": "fates_le", "titleAngle": 270, "titleAlign": "left", "titleBaseline": "alphabetic", "titleX": -80.7, "titleY": 99.7}},
    "y2": {"field": "hi"},
    "color": {"field": "v", "type": "quantitative", "scale": {"type": "threshold", "domain": [1e-8,6.31e-8,3.98e-7,2.51e-6,1.58e-5,1e-4,6.31e-4,3.98e-3,0.0251,0.158,1], "range": ["#ffffff","#dadada","#cfcabb","#c4b78e","#b89e63","#b48859","#ae7358","#a85d58","#a4494f","#933440","#7b2128","#5c0a0e"]}, "legend": null},
    "stroke": {"field": "v", "type": "quantitative", "scale": {"type": "threshold", "domain": [1e-8,6.31e-8,3.98e-7,2.51e-6,1.58e-5,1e-4,6.31e-4,3.98e-3,0.0251,0.158,1], "range": ["#ffffff","#dadada","#cfcabb","#c4b78e","#b89e63","#b48859","#ae7358","#a85d58","#a4494f","#933440","#7b2128","#5c0a0e"]}, "legend": null}}},
  {"data": {"values": [{}]}, "mark": {"type": "rule", "color": "#000", "strokeWidth": 1.3}, "encoding": {"x": {"datum": 51.5}, "y": {"datum": -2.5}, "y2": {"datum": 55.1}}}
 ]},
{"width": 372.3, "height": 145, "view": {"stroke": null},
 "layer": [
  {"data": {"name": "bot"}, "transform": [{"filter": "datum.f == 2"}, {"lookup": "c", "from": {"data": {"name": "cls"}, "key": "c", "fields": ["lo", "hi"]}}],
   "mark": {"type": "rect", "strokeWidth": 0.6},
   "encoding": {
    "x": {"field": "t0", "type": "quantitative", "scale": {"domain": [1.5, 51.5], "range": [-8.2, 364.1], "nice": false, "zero": false}, "axis": {"values": [15, 30, 45], "labelExpr": "'00' + datum.value", "domain": true, "title": "time", "titleY": 64.7, "titleBaseline": "alphabetic"}},
    "x2": {"field": "t1"},
    "y": {"field": "lo", "type": "quantitative", "scale": {"domain": [-2.5, 55.1], "nice": false, "zero": false}, "axis": {"values": [0, 50], "domain": true, "labels": false, "title": null, "offset": 8.2}},
    "y2": {"field": "hi"},
    "color": {"field": "v", "type": "quantitative", "scale": {"type": "threshold", "domain": [1e-8,6.31e-8,3.98e-7,2.51e-6,1.58e-5,1e-4,6.31e-4,3.98e-3,0.0251,0.158,1], "range": ["#ffffff","#dadada","#cfcabb","#c4b78e","#b89e63","#b48859","#ae7358","#a85d58","#a4494f","#933440","#7b2128","#5c0a0e"]}, "legend": null},
    "stroke": {"field": "v", "type": "quantitative", "scale": {"type": "threshold", "domain": [1e-8,6.31e-8,3.98e-7,2.51e-6,1.58e-5,1e-4,6.31e-4,3.98e-3,0.0251,0.158,1], "range": ["#ffffff","#dadada","#cfcabb","#c4b78e","#b89e63","#b48859","#ae7358","#a85d58","#a4494f","#933440","#7b2128","#5c0a0e"]}, "legend": null}}},
  {"data": {"values": [{}]}, "mark": {"type": "rule", "color": "#000", "strokeWidth": 1.3}, "encoding": {"x": {"datum": 51.5}, "y": {"datum": -2.5}, "y2": {"datum": 55.1}}}
 ]},
{"width": 372.3, "height": 145, "view": {"stroke": null},
 "layer": [
  {"data": {"name": "bot"}, "transform": [{"filter": "datum.f == 3"}, {"lookup": "c", "from": {"data": {"name": "cls"}, "key": "c", "fields": ["lo", "hi"]}}],
   "mark": {"type": "rect", "strokeWidth": 0.6},
   "encoding": {
    "x": {"field": "t0", "type": "quantitative", "scale": {"domain": [1.5, 51.5], "range": [-16.4, 355.9], "nice": false, "zero": false}, "axis": {"values": [15, 30, 45], "labelExpr": "'00' + datum.value", "domain": true, "title": "time", "titleY": 64.7, "titleBaseline": "alphabetic"}},
    "x2": {"field": "t1"},
    "y": {"field": "lo", "type": "quantitative", "scale": {"domain": [-2.5, 55.1], "nice": false, "zero": false}, "axis": {"values": [0, 50], "domain": true, "labels": false, "title": null, "offset": 16.4}},
    "y2": {"field": "hi"},
    "color": {"field": "v", "type": "quantitative", "scale": {"type": "threshold", "domain": [1e-8,6.31e-8,3.98e-7,2.51e-6,1.58e-5,1e-4,6.31e-4,3.98e-3,0.0251,0.158,1], "range": ["#ffffff","#dadada","#cfcabb","#c4b78e","#b89e63","#b48859","#ae7358","#a85d58","#a4494f","#933440","#7b2128","#5c0a0e"]}, "legend": null},
    "stroke": {"field": "v", "type": "quantitative", "scale": {"type": "threshold", "domain": [1e-8,6.31e-8,3.98e-7,2.51e-6,1.58e-5,1e-4,6.31e-4,3.98e-3,0.0251,0.158,1], "range": ["#ffffff","#dadada","#cfcabb","#c4b78e","#b89e63","#b48859","#ae7358","#a85d58","#a4494f","#933440","#7b2128","#5c0a0e"]}, "legend": null}}},
  {"data": {"values": [{}]}, "mark": {"type": "rule", "color": "#000", "strokeWidth": 1.3}, "encoding": {"x": {"datum": 51.5}, "y": {"datum": -2.5}, "y2": {"datum": 55.1}}}
 ]},
{"width": 372.3, "height": 145, "view": {"stroke": null},
 "layer": [
  {"data": {"name": "bot"}, "transform": [{"filter": "datum.f == 4"}, {"lookup": "c", "from": {"data": {"name": "cls"}, "key": "c", "fields": ["lo", "hi"]}}],
   "mark": {"type": "rect", "strokeWidth": 0.6},
   "encoding": {
    "x": {"field": "t0", "type": "quantitative", "scale": {"domain": [1.5, 51.5], "range": [-24.6, 347.7], "nice": false, "zero": false}, "axis": {"values": [15, 30, 45], "labelExpr": "'00' + datum.value", "domain": true, "title": "time", "titleY": 64.7, "titleBaseline": "alphabetic"}},
    "x2": {"field": "t1"},
    "y": {"field": "lo", "type": "quantitative", "scale": {"domain": [-2.5, 55.1], "nice": false, "zero": false}, "axis": {"values": [0, 50], "domain": true, "labels": false, "title": null, "offset": 24.6}},
    "y2": {"field": "hi"},
    "color": {"field": "v", "type": "quantitative", "scale": {"type": "threshold", "domain": [1e-8,6.31e-8,3.98e-7,2.51e-6,1.58e-5,1e-4,6.31e-4,3.98e-3,0.0251,0.158,1], "range": ["#ffffff","#dadada","#cfcabb","#c4b78e","#b89e63","#b48859","#ae7358","#a85d58","#a4494f","#933440","#7b2128","#5c0a0e"]}, "legend": null},
    "stroke": {"field": "v", "type": "quantitative", "scale": {"type": "threshold", "domain": [1e-8,6.31e-8,3.98e-7,2.51e-6,1.58e-5,1e-4,6.31e-4,3.98e-3,0.0251,0.158,1], "range": ["#ffffff","#dadada","#cfcabb","#c4b78e","#b89e63","#b48859","#ae7358","#a85d58","#a4494f","#933440","#7b2128","#5c0a0e"]}, "legend": null}}},
  {"data": {"values": [{}]}, "mark": {"type": "rule", "color": "#000", "strokeWidth": 1.3}, "encoding": {"x": {"datum": 51.5}, "y": {"datum": -2.5}, "y2": {"datum": 55.1}}}
 ]},
{"width": 37.7, "height": 145, "view": {"stroke": null},
 "layer": [
  {"data": {"name": "cb"}, "mark": {"type": "rect", "strokeWidth": 0.6},
   "encoding": {
    "x": {"datum": 0, "type": "quantitative", "scale": {"domain": [0, 1], "range": [22.7, 37.7]}, "axis": null},
    "x2": {"datum": 1},
    "y": {"field": "k0", "type": "quantitative", "scale": {"domain": [-0.526, 5.53], "clamp": true, "nice": false, "zero": false},
      "axis": {"orient": "right", "values": [0,1,2,3,4,5], "domain": false, "labelPadding": 8, "labelExpr": "datum.value % 2 == 0 ? format(pow(10, -0.8*(10-datum.value)), '.4f') : ''", "title": "Carbon Starvat", "titleAngle": 270, "titleAlign": "left", "titleBaseline": "alphabetic", "titleX": 142.5, "titleY": 206.7}},
    "y2": {"field": "k1"},
    "color": {"field": "v", "type": "quantitative", "scale": {"type": "threshold", "domain": [1e-8,6.31e-8,3.98e-7,2.51e-6,1.58e-5,1e-4,6.31e-4,3.98e-3,0.0251,0.158,1], "range": ["#ffffff","#dadada","#cfcabb","#c4b78e","#b89e63","#b48859","#ae7358","#a85d58","#a4494f","#933440","#7b2128","#5c0a0e"]}, "legend": null},
    "stroke": {"field": "v", "type": "quantitative", "scale": {"type": "threshold", "domain": [1e-8,6.31e-8,3.98e-7,2.51e-6,1.58e-5,1e-4,6.31e-4,3.98e-3,0.0251,0.158,1], "range": ["#ffffff","#dadada","#cfcabb","#c4b78e","#b89e63","#b48859","#ae7358","#a85d58","#a4494f","#933440","#7b2128","#5c0a0e"]}, "legend": null}}},
  {"data": {"values": [{}]}, "mark": {"type": "rule", "color": "#333", "strokeWidth": 1}, "encoding": {"x": {"datum": 0}, "y": {"datum": 0}, "y2": {"datum": 10}}},
  {"data": {"values": [{}]}, "mark": {"type": "rule", "color": "#333", "strokeWidth": 1}, "encoding": {"x": {"datum": 1}, "y": {"datum": 0}, "y2": {"datum": 10}}},
  {"data": {"values": [{}]}, "mark": {"type": "point", "shape": "M-1,0L1,0L0,1.47Z", "size": 225, "filled": true, "color": "#ffffff", "stroke": "#333", "strokeWidth": 1, "opacity": 1}, "encoding": {"x": {"datum": 0.5}, "y": {"datum": 0}}}
 ]}
],
"config": {
 "font": "DejaVu Sans",
 "axis": {"labelFont": "DejaVu Sans", "titleFont": "DejaVu Sans", "labelFontSize": 27, "titleFontSize": 27, "titleFontWeight": "normal", "labelColor": "#000", "titleColor": "#000", "tickColor": "#000", "domainColor": "#000", "tickSize": 7, "tickWidth": 1.3, "domainWidth": 1.3, "labelPadding": 7, "grid": false, "labelFlush": false, "labelOverlap": false, "zindex": 1},
 "title": {"font": "DejaVu Sans", "fontWeight": "normal", "color": "#000"},
 "view": {"stroke": "#000", "strokeWidth": 1.3}
}
}
